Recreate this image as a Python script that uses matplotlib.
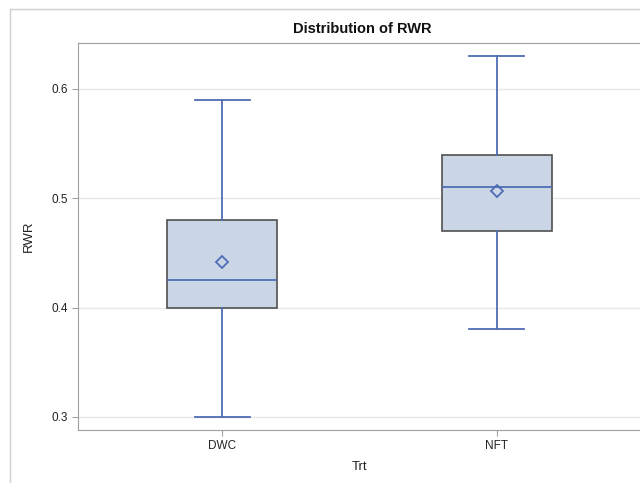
import matplotlib
matplotlib.use("Agg")
import matplotlib.pyplot as plt
from matplotlib.lines import Line2D

plt.rcParams["font.family"] = ["Liberation Sans", "DejaVu Sans"]

# Summary statistics per treatment
categories = ["DWC", "NFT"]
mins = [0.30, 0.38]
q1s = [0.40, 0.47]
medians = [0.425, 0.51]
q3s = [0.48, 0.54]
maxs = [0.59, 0.63]
means = [0.442, 0.507]
yticks = [0.3, 0.4, 0.5, 0.6]

fill = "#CAD5E5"
line_blue = "#4F6DB5"
edge = "#505050"

fig = plt.figure(figsize=(6.4, 4.83), dpi=100)
ax = fig.add_axes([78 / 640, 1 - 430 / 483, 563 / 640, 387 / 483])

stats = []
for i, c in enumerate(categories):
    stats.append(dict(label=c, whislo=mins[i], q1=q1s[i], med=medians[i],
                      q3=q3s[i], whishi=maxs[i], mean=means[i]))

ax.bxp(stats, positions=range(len(categories)), widths=0.4, patch_artist=True,
       showmeans=True, showfliers=False,
       boxprops=dict(facecolor=fill, edgecolor=edge, linewidth=1.2),
       medianprops=dict(color=line_blue, linewidth=1.3),
       whiskerprops=dict(color=line_blue, linewidth=1.3),
       capprops=dict(color=line_blue, linewidth=1.3),
       capwidths=0.2,
       meanprops=dict(marker="D", markerfacecolor="none", markeredgecolor=line_blue,
                      markersize=6, markeredgewidth=1.3))

ax.set_xlim(-0.524, 1.524)
ax.set_ylim(0.288, 0.642)
ax.set_yticks(yticks)
ax.set_yticklabels([f"{v:.1f}" for v in yticks])
ax.set_xticks(range(len(categories)))
ax.set_xticklabels(categories)
ax.grid(axis="y", color="#E8E8E8", linewidth=1)
ax.set_axisbelow(True)
for s in ax.spines.values():
    s.set_color("#A0A0A0")
ax.tick_params(colors="#A0A0A0", labelcolor="#222222", labelsize=8.5, length=4)

ax.set_xlabel("Trt", fontsize=9.5, color="#222222", labelpad=6)
ax.set_ylabel("RWR", fontsize=9.5, color="#222222", labelpad=12)
fig.text(0.5656, 1 - 29 / 483, "Distribution of RWR", ha="center", va="center",
         fontsize=10.5, fontweight="bold", color="#111111")

# Outer frame of the graph region
fig.add_artist(Line2D([10 / 640, 1.0], [1 - 9 / 483] * 2, color="#D0D0D0", linewidth=1,
                      transform=fig.transFigure))
fig.add_artist(Line2D([10 / 640] * 2, [0, 1 - 9 / 483], color="#D0D0D0", linewidth=1,
                      transform=fig.transFigure))

fig.savefig("out.png", dpi=100)
